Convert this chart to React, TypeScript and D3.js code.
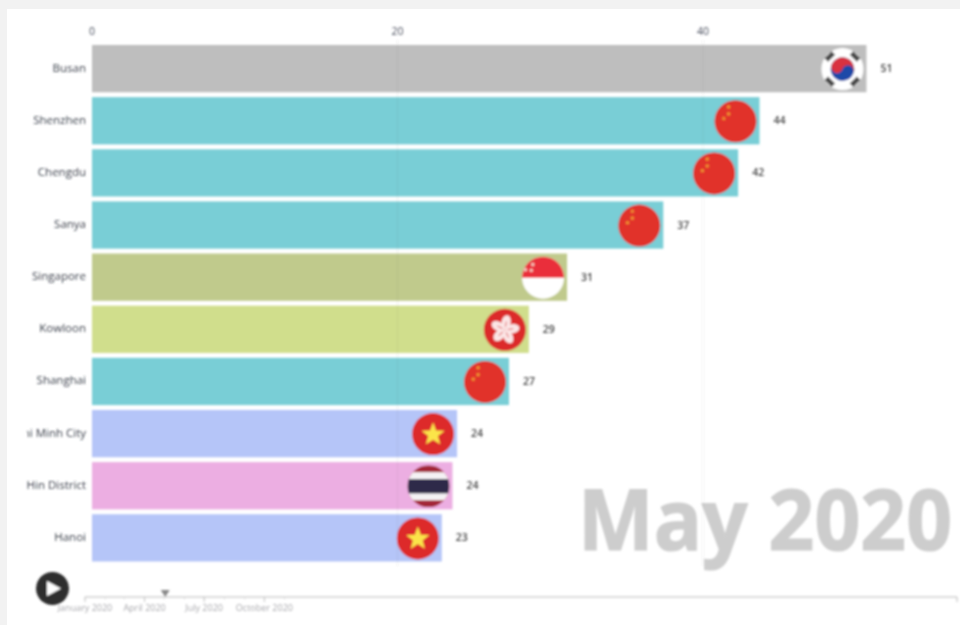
import React from 'react';
import * as d3 from 'd3';

const cities = ['Busan', 'Shenzhen', 'Chengdu', 'Sanya', 'Singapore', 'Kowloon', 'Shanghai', 'Ho Chi Minh City', 'Hua Hin District', 'Hanoi'];
const values = [50.7, 43.7, 42.3, 37.4, 31.1, 28.6, 27.3, 23.9, 23.6, 22.9];
const countries = ['kr', 'cn', 'cn', 'cn', 'sg', 'hk', 'cn', 'vn', 'th', 'vn'];
const xTicks = [0, 20, 40];

const countryColors: Record<string, string> = {
  kr: '#bebebe',
  cn: '#79ced6',
  sg: '#c0ca8c',
  hk: '#d0de8c',
  vn: '#b5c5f8',
  th: '#ecaee2',
};

const timeTickDates = [new Date(2020, 0, 1), new Date(2020, 3, 1), new Date(2020, 6, 1), new Date(2020, 9, 1)];
const timeEnd = new Date(2023, 7, 25);
const currentDate = new Date(2020, 4, 1);
const currentLabel = 'May 2020';

const FONT = '"Open Sans", "Noto Sans", sans-serif';
const WIDTH = 960;
const HEIGHT = 625;

const x = d3.scaleLinear().domain([0, 40]).range([92, 703]);
const y = d3.scaleBand<string>().domain(cities).range([45, 561.5]).paddingInner(0.094);
const timeX = d3.scaleTime().domain([timeTickDates[0], timeEnd]).range([85, 957]);
const minorMonths = d3.timeMonth.range(timeTickDates[0], new Date(2020, 11, 1));
const formatTime = d3.timeFormat('%B %Y');

const starPath = (r: number) => {
  const points: [number, number][] = d3.range(10).map((i) => {
    const radius = i % 2 === 0 ? r : r * 0.42;
    const a = (i * Math.PI) / 5;
    return [radius * Math.sin(a), -radius * Math.cos(a)];
  });
  return d3.line()(points) + 'Z';
};

const Flag = ({ country, r }: { country: string; r: number }) => {
  if (country === 'kr') {
    const inner = r * 0.56;
    const half = inner / 2;
    // red on top, with the fat lobe to the left
    const taegeuk = `M${-inner},0 A${inner},${inner} 0 0 1 ${inner},0 A${half},${half} 0 0 0 0,0 A${half},${half} 0 0 1 ${-inner},0Z`;
    return (
      <g>
        <circle r={r} fill="#fff" />
        <g transform="rotate(20)">
          <circle r={inner} fill="#1f48a8" />
          <path d={taegeuk} fill="#d9303f" />
        </g>
        {[45, 135, 225, 315].map((a) => (
          <rect key={a} x={-r * 0.24} y={-r * 0.97} width={r * 0.48} height={r * 0.24} fill="#4a4a4a" transform={`rotate(${a})`} />
        ))}
      </g>
    );
  }
  if (country === 'cn') {
    return (
      <g>
        <circle r={r} fill="#e1312b" />
        <g fill="#f0a030">
          {[[-0.33, -0.68], [-0.33, -0.35], [-0.56, -0.13]].map(([a, b], i) => (
            <path key={i} d={starPath(r * 0.12)} transform={`translate(${a * r},${b * r})`} />
          ))}
        </g>
      </g>
    );
  }
  if (country === 'sg') {
    const half = `M${-r},0 A${r},${r} 0 0 1 ${r},0Z`;
    return (
      <g>
        <circle r={r} fill="#fff" />
        <path d={half} fill="#ea2f3a" />
        <g fill="#f6c9c0">
          {[[-0.49, -0.63], [-0.56, -0.35], [-0.84, -0.38]].map(([a, b], i) => (
            <circle key={i} cx={a * r} cy={b * r} r={r * 0.08} />
          ))}
        </g>
      </g>
    );
  }
  if (country === 'hk') {
    return (
      <g>
        <circle r={r} fill="#dc2a2c" />
        {[0, 72, 144, 216, 288].map((a) => (
          <g key={a} transform={`rotate(${a + 10})`}>
            <ellipse cy={-r * 0.36} rx={r * 0.22} ry={r * 0.34} fill="#fbe6e6" />
            <line y1={-r * 0.14} y2={-r * 0.4} stroke="#e0666a" strokeWidth={1} />
          </g>
        ))}
      </g>
    );
  }
  if (country === 'vn') {
    return (
      <g>
        <circle r={r} fill="#dd2a2a" />
        <path d={starPath(r * 0.58)} fill="#fbe44a" transform={`translate(0,${r * 0.02})`} />
      </g>
    );
  }
  return (
    <g>
      <clipPath id="thai-clip">
        <circle r={r} />
      </clipPath>
      <g clipPath="url(#thai-clip)">
        <rect x={-r} y={-r} width={2 * r} height={2 * r} fill="#a32638" />
        <rect x={-r} y={-r * 0.67} width={2 * r} height={r * 1.34} fill="#f4f2f4" />
        <rect x={-r} y={-r * 0.34} width={2 * r} height={r * 0.68} fill="#2d2a4a" />
      </g>
    </g>
  );
};

export default function App() {
  const flagR = 21;
  return (
    <svg width={WIDTH} height={HEIGHT} style={{ position: 'absolute', left: 0, top: 0, fontFamily: FONT }}>
      <defs>
        <filter id="soft" filterUnits="userSpaceOnUse" x="0" y="0" width={WIDTH} height={HEIGHT}>
          <feGaussianBlur stdDeviation="0.8" />
        </filter>
        <clipPath id="label-clip">
          <rect x={27} y={0} width={70} height={HEIGHT} />
        </clipPath>
      </defs>
      <rect width={WIDTH} height={HEIGHT} fill="#f2f2f2" />
      <rect x={7} y={9} width={WIDTH - 7} height={HEIGHT - 9} fill="#fff" />

      <g filter="url(#soft)">
        <text transform="translate(578,550) scale(0.955,1)" fontSize={84} fontWeight={700} fill="#cdcdcd" stroke="#cdcdcd" strokeWidth={1.2}>
          {currentLabel}
        </text>

        {cities.map((city, i) => (
          <rect key={city} x={x(0)} y={y(city)} width={x(values[i]) - x(0)} height={y.bandwidth()} fill={countryColors[countries[i]]} />
        ))}

        {xTicks.map((t) => (
          <g key={t}>
            <line x1={x(t)} x2={x(t)} y1={40} y2={566} stroke="#555" strokeOpacity={t === 0 ? 0 : 0.09} />
            <text x={x(t)} y={35} textAnchor="middle" fontSize={10.5} fill="#4a4f5e">{t}</text>
          </g>
        ))}

        <g clipPath="url(#label-clip)">
          {cities.map((city) => (
            <text key={city} x={86} y={y(city)! + y.bandwidth() / 2 + 3} textAnchor="end" fontSize={11.5} fill="#3c414c">
              {city}
            </text>
          ))}
        </g>

        {cities.map((city, i) => (
          <g key={city}>
            <g transform={`translate(${x(values[i]) - 24},${y(city)! + y.bandwidth() / 2 + 0.5})`}>
              <Flag country={countries[i]} r={flagR} />
            </g>
            <text x={x(values[i]) + 14} y={y(city)! + y.bandwidth() / 2 + 3.5} fontSize={10.5} fontWeight={600} fill="#444">
              {Math.round(values[i])}
            </text>
          </g>
        ))}

        <line x1={timeX.range()[0]} x2={timeX.range()[1]} y1={597} y2={597} stroke="#d0d0d0" strokeWidth={1.5} />
        <line x1={timeX.range()[1]} x2={timeX.range()[1]} y1={597} y2={602} stroke="#bbb" />
        {minorMonths.map((m) => (
          <line key={m.getTime()} x1={timeX(m)} x2={timeX(m)} y1={597} y2={599.5} stroke="#ddd" />
        ))}
        {timeTickDates.map((d) => (
          <g key={d.getTime()}>
            <line x1={timeX(d)} x2={timeX(d)} y1={597} y2={602} stroke="#c4c4c4" />
            <text x={timeX(d)} y={611} textAnchor="middle" fontSize={9} fill="#a8a8ac">{formatTime(d)}</text>
          </g>
        ))}
        <path d={d3.line()([[-4.5, 0], [4.5, 0], [0, 7]]) + 'Z'} transform={`translate(${timeX(currentDate) + 1},590)`} fill="#888" />

        <circle cx={52.5} cy={588.5} r={16.5} fill="#2d2d2d" />
        <path d={d3.line()([[-6, -7.5], [8, 0], [-6, 7.5]]) + 'Z'} transform="translate(53,588.5)" fill="#fff" />
      </g>
    </svg>
  );
}
